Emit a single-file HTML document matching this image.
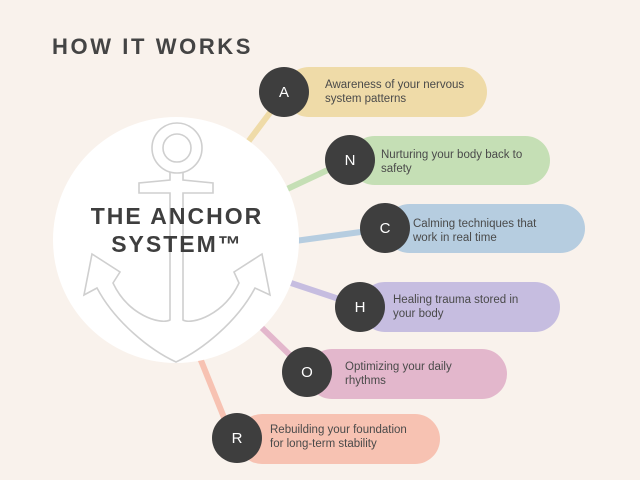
<!DOCTYPE html>
<html><head><meta charset="utf-8"><style>
html,body{margin:0;padding:0;background:#f9f2ec;}
svg{display:block}
text{font-family:"Liberation Sans",sans-serif;}
</style></head><body>
<svg width="640" height="480" viewBox="0 0 640 480">
<rect width="640" height="480" fill="#f9f2ec"/>
<text x="52" y="54" font-size="22" font-weight="bold" fill="#444" letter-spacing="2.6">HOW IT WORKS</text>
<g stroke-width="6" stroke-linecap="butt">
<line x1="248" y1="142" x2="272" y2="110" stroke="#efdba8"/>
<line x1="285" y1="190" x2="332" y2="168" stroke="#c5dfb5"/>
<line x1="295" y1="241" x2="368" y2="231" stroke="#b6cde0"/>
<line x1="288" y1="282" x2="342" y2="300" stroke="#c6bde0"/>
<line x1="260" y1="326" x2="292" y2="357" stroke="#e3b7cc"/>
<line x1="200" y1="358" x2="225" y2="420" stroke="#f7c2b2"/>
</g>
<circle cx="176" cy="240" r="123" fill="#fff"/>
<g fill="none" stroke="#cfcfcf" stroke-width="1.6">
<circle cx="177" cy="148" r="25"/>
<circle cx="177" cy="148" r="14"/>
<path d="M170 172 L170 180 L139 183 L139 193 L170 193 L170 320 C160 325 128 315 113 283 L120 272 L92 254 L84 295 L97 288 C115 322 150 350 176 362 C202 350 237 322 255 288 L270 295 L262 254 L234 272 L239 283 C224 315 192 325 183 320 L183 193 L213 193 L213 183 L183 180 L183 172"/>
</g>
<text x="177" y="224" font-size="23" font-weight="bold" fill="#3e3e3e" text-anchor="middle" letter-spacing="2">THE ANCHOR</text>
<text x="177" y="252" font-size="23" font-weight="bold" fill="#3e3e3e" text-anchor="middle" letter-spacing="2">SYSTEM™</text>
<g font-size="11.5" fill="#4a4a4a">
<rect x="284" y="67" width="203" height="50" rx="25" fill="#efdba8"/>
<circle cx="284" cy="92" r="25" fill="#3e3e3e"/>
<text x="284" y="97" font-size="15" fill="#fff" text-anchor="middle">A</text>
<text x="325" y="88">Awareness of your nervous</text><text x="325" y="102">system patterns</text>

<rect x="350" y="136" width="200" height="49" rx="24.5" fill="#c5dfb5"/>
<circle cx="350" cy="160" r="25" fill="#3e3e3e"/>
<text x="350" y="165" font-size="15" fill="#fff" text-anchor="middle">N</text>
<text x="381" y="158">Nurturing your body back to</text><text x="381" y="172">safety</text>

<rect x="385" y="204" width="200" height="49" rx="24.5" fill="#b6cde0"/>
<circle cx="385" cy="228" r="25" fill="#3e3e3e"/>
<text x="385" y="233" font-size="15" fill="#fff" text-anchor="middle">C</text>
<text x="413" y="227">Calming techniques that</text><text x="413" y="241">work in real time</text>

<rect x="360" y="282" width="200" height="50" rx="25" fill="#c6bde0"/>
<circle cx="360" cy="307" r="25" fill="#3e3e3e"/>
<text x="360" y="312" font-size="15" fill="#fff" text-anchor="middle">H</text>
<text x="393" y="303">Healing trauma stored in</text><text x="393" y="317">your body</text>

<rect x="307" y="349" width="200" height="50" rx="25" fill="#e3b7cc"/>
<circle cx="307" cy="372" r="25" fill="#3e3e3e"/>
<text x="307" y="377" font-size="15" fill="#fff" text-anchor="middle">O</text>
<text x="345" y="370">Optimizing your daily</text><text x="345" y="384">rhythms</text>

<rect x="237" y="414" width="203" height="50" rx="25" fill="#f7c2b2"/>
<circle cx="237" cy="438" r="25" fill="#3e3e3e"/>
<text x="237" y="443" font-size="15" fill="#fff" text-anchor="middle">R</text>
<text x="270" y="433">Rebuilding your foundation</text><text x="270" y="447">for long-term stability</text>
</g>
</svg>
</body></html>
